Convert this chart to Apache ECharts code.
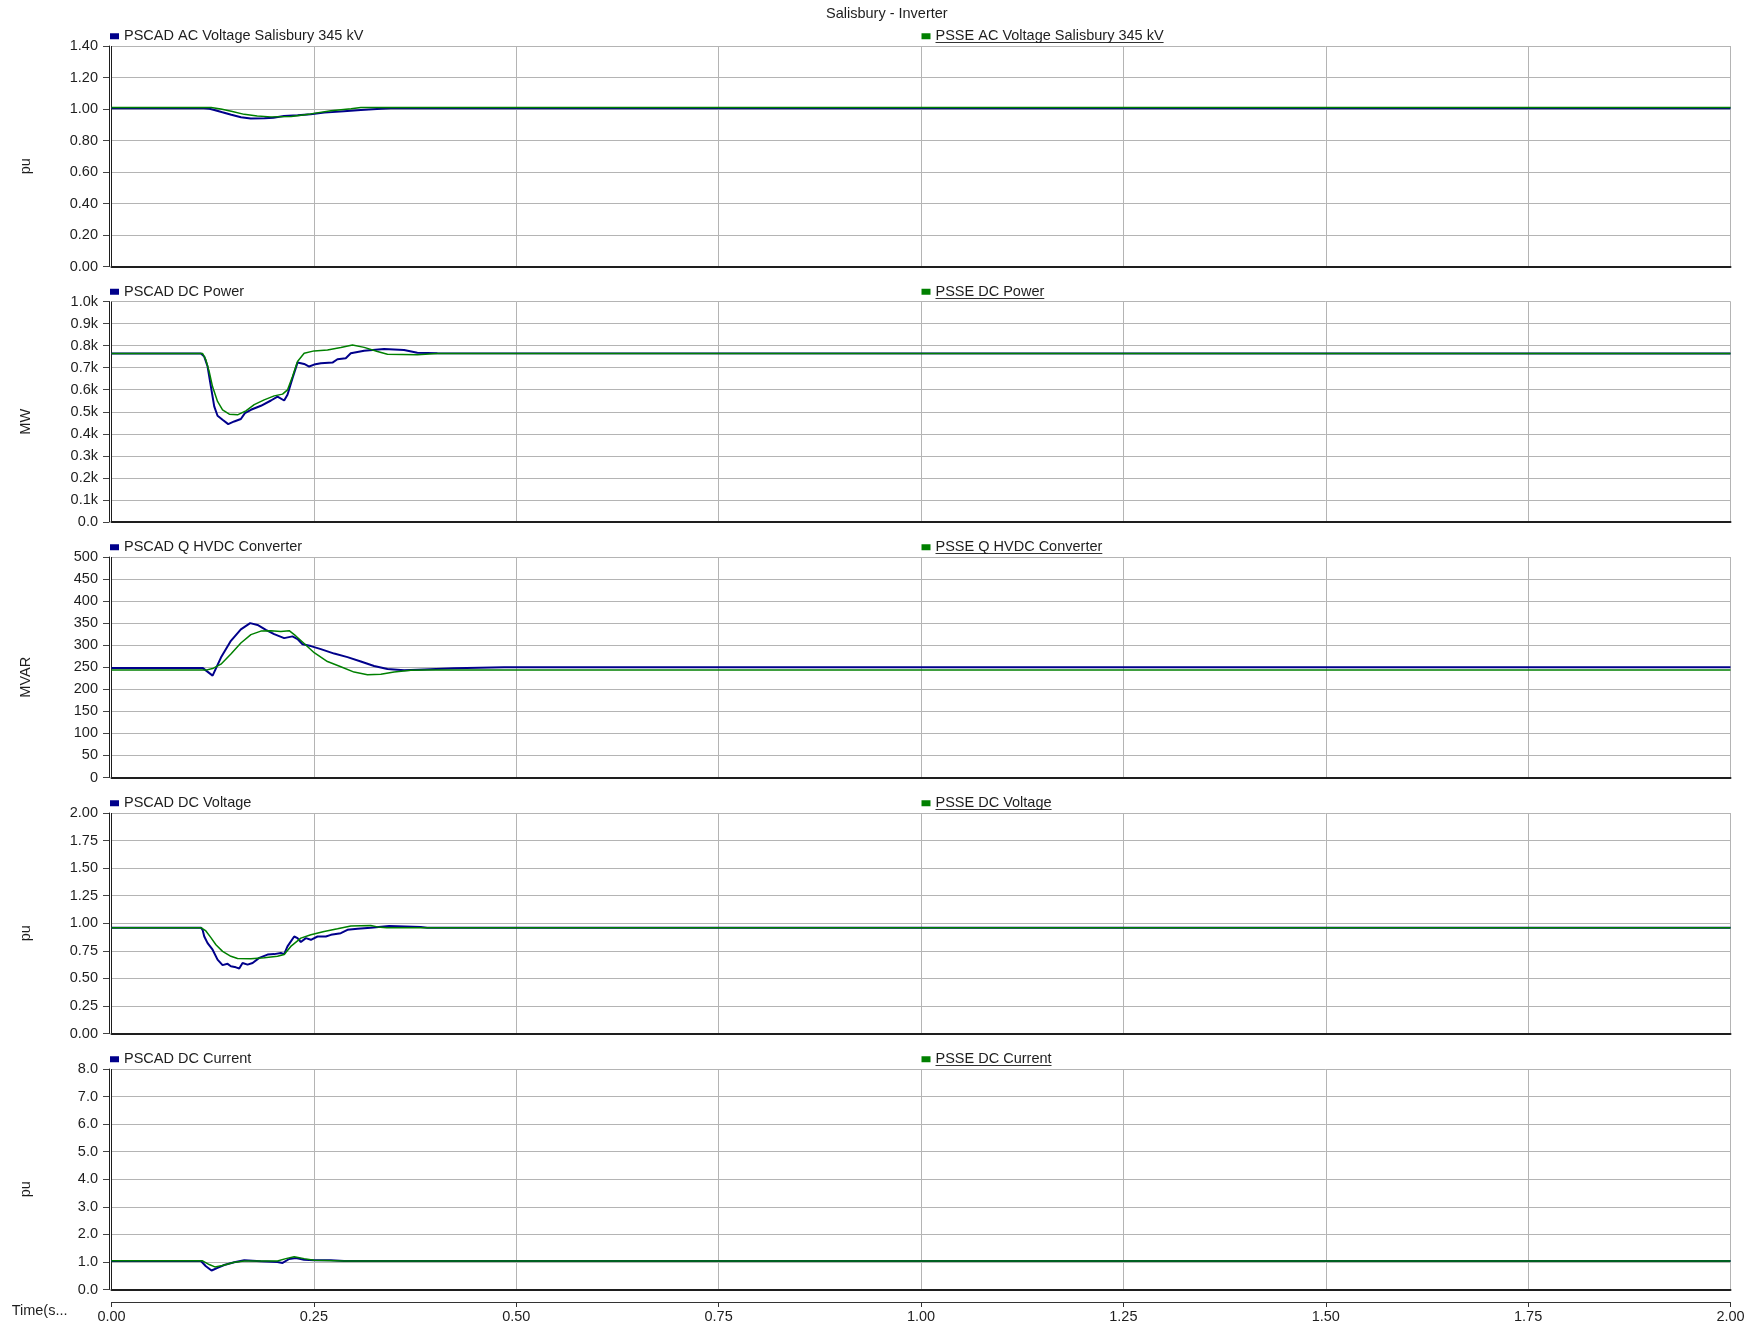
<!DOCTYPE html>
<html>
<head>
<meta charset="utf-8">
<title>Salisbury - Inverter</title>
<script src="https://cdn.jsdelivr.net/npm/echarts@6/dist/echarts.min.js"></script>
<style>
  html, body { margin: 0; padding: 0; background: #ffffff; }
  #chart { width: 1754px; height: 1331px; }
</style>
</head>
<body>
<div id="chart"></div>
<script>
// ---- tick labels ----
const timeTicks  = ['0.00', '0.25', '0.50', '0.75', '1.00', '1.25', '1.50', '1.75', '2.00'];
const acTicks    = ['0.00', '0.20', '0.40', '0.60', '0.80', '1.00', '1.20', '1.40'];
const powerTicks = ['0.0', '0.1k', '0.2k', '0.3k', '0.4k', '0.5k', '0.6k', '0.7k', '0.8k', '0.9k', '1.0k'];
const qTicks     = ['0', '50', '100', '150', '200', '250', '300', '350', '400', '450', '500'];
const vdcTicks   = ['0.00', '0.25', '0.50', '0.75', '1.00', '1.25', '1.50', '1.75', '2.00'];
const idcTicks   = ['0.0', '1.0', '2.0', '3.0', '4.0', '5.0', '6.0', '7.0', '8.0'];

// ---- series: [time (s), value] ----
// AC voltage at Salisbury 345 kV (pu)
const acPscad = [[0, 1.005], [0.114, 1.005], [0.121, 1.002], [0.127, 0.994], [0.137, 0.979], [0.148, 0.963],
  [0.160, 0.948], [0.172, 0.940], [0.189, 0.941], [0.200, 0.945], [0.213, 0.955], [0.230, 0.960],
  [0.246, 0.967], [0.263, 0.977], [0.287, 0.986], [0.308, 0.994], [0.333, 1.002], [0.345, 1.005], [2, 1.005]];
const acPsse = [[0, 1.01], [0.123, 1.01], [0.135, 1.0], [0.148, 0.986], [0.164, 0.966], [0.180, 0.955],
  [0.197, 0.950], [0.222, 0.953], [0.246, 0.969], [0.271, 0.989], [0.296, 1.002], [0.308, 1.01], [2, 1.01]];

// DC power (MW)
const powerPscad = [[0, 764], [0.1105, 764], [0.1146, 750], [0.1187, 705], [0.1228, 614], [0.1269, 524],
  [0.131, 482], [0.1372, 464], [0.1442, 444], [0.1516, 456], [0.1598, 467], [0.1648, 494], [0.1722, 509],
  [0.1846, 527], [0.197, 551], [0.2051, 569], [0.2133, 551], [0.2174, 577], [0.2236, 652], [0.2298, 723],
  [0.238, 717], [0.2442, 705], [0.2503, 714], [0.2586, 720], [0.273, 723], [0.2791, 738], [0.2894, 743],
  [0.2956, 765], [0.3121, 777], [0.3367, 785], [0.3614, 780], [0.3778, 768], [0.4026, 765], [2, 764]];
const powerPsse = [[0, 764], [0.1126, 764], [0.1166, 735], [0.1207, 682], [0.1248, 614], [0.131, 547],
  [0.1372, 509], [0.1455, 489], [0.1557, 486], [0.166, 504], [0.1763, 532], [0.1886, 554], [0.201, 572],
  [0.2113, 580], [0.2174, 599], [0.2236, 660], [0.2298, 728], [0.238, 765], [0.2503, 776], [0.2668, 780],
  [0.2833, 791], [0.2977, 803], [0.3121, 792], [0.3285, 773], [0.3409, 761], [0.3778, 759], [0.4026, 764], [2, 764]];

// Reactive power of the HVDC converter (MVAR)
const qPscad = [[0, 248.5], [0.1125, 248.5], [0.1249, 231], [0.1352, 272], [0.1475, 310], [0.1598, 336],
  [0.1713, 350], [0.1804, 346], [0.1907, 335], [0.2009, 325], [0.2133, 316], [0.2236, 320], [0.2298, 314],
  [0.236, 302], [0.2463, 298], [0.2586, 291], [0.2751, 281], [0.2915, 273], [0.308, 263], [0.3244, 253],
  [0.3409, 246], [0.3615, 243], [0.3861, 245], [0.4232, 248], [0.4849, 250], [2, 250]];
const qPsse = [[0, 243.5], [0.1166, 243.5], [0.1249, 247], [0.1352, 257], [0.1475, 280], [0.1598, 305],
  [0.1722, 324], [0.1845, 332], [0.1969, 333], [0.2092, 331], [0.2195, 333], [0.2277, 321], [0.238, 304],
  [0.2504, 283], [0.2668, 263], [0.2833, 251], [0.2997, 239], [0.3162, 233], [0.3327, 234], [0.3491, 239],
  [0.3697, 243], [0.39, 243.5], [2, 243.5]];

// DC voltage (pu)
const vdcPscad = [[0, 0.96], [0.1105, 0.96], [0.1125, 0.94], [0.1146, 0.88], [0.1187, 0.82], [0.1249, 0.76],
  [0.131, 0.67], [0.1372, 0.62], [0.1434, 0.632], [0.1475, 0.61], [0.1537, 0.60], [0.1578, 0.59],
  [0.1619, 0.64], [0.1681, 0.625], [0.1743, 0.64], [0.1825, 0.686], [0.1928, 0.716], [0.201, 0.72],
  [0.2092, 0.73], [0.2133, 0.72], [0.2174, 0.79], [0.2257, 0.88], [0.2298, 0.865], [0.2339, 0.83],
  [0.2401, 0.865], [0.2463, 0.85], [0.2545, 0.88], [0.2648, 0.88], [0.271, 0.895], [0.2833, 0.91],
  [0.2915, 0.94], [0.3039, 0.95], [0.3203, 0.96], [0.343, 0.975], [0.382, 0.967], [0.39, 0.96], [2, 0.96]];
const vdcPsse = [[0, 0.96], [0.1105, 0.96], [0.1166, 0.93], [0.1228, 0.87], [0.129, 0.805], [0.1372, 0.745],
  [0.1475, 0.70], [0.1557, 0.68], [0.1722, 0.677], [0.1887, 0.686], [0.2051, 0.70], [0.2133, 0.716],
  [0.2215, 0.79], [0.2339, 0.865], [0.2463, 0.895], [0.2627, 0.925], [0.2792, 0.95], [0.2957, 0.976],
  [0.3203, 0.979], [0.3285, 0.967], [0.34, 0.96], [2, 0.96]];

// DC current (pu)
const idcPscad = [[0, 1.035], [0.1105, 1.035], [0.1166, 0.845], [0.1236, 0.69], [0.131, 0.786], [0.1392, 0.89],
  [0.1516, 0.988], [0.164, 1.06], [0.1845, 1.024], [0.205, 1.0], [0.2113, 0.964], [0.2195, 1.107],
  [0.2277, 1.143], [0.238, 1.083], [0.2503, 1.06], [0.2709, 1.06], [0.2873, 1.036], [2, 1.035]];
const idcPsse = [[0, 1.04], [0.1125, 1.04], [0.1207, 0.905], [0.1277, 0.82], [0.1372, 0.87], [0.1516, 0.988],
  [0.164, 1.036], [0.205, 1.036], [0.2154, 1.12], [0.2257, 1.19], [0.238, 1.12], [0.2503, 1.06],
  [0.2873, 1.036], [2, 1.035]];

// ---- layout & style ----
const FONT = '"Liberation Sans", Arial, Helvetica, sans-serif';
const FS = 14.5;
const TEXT = '#1e1e1e';
const PSCAD_COLOR = '#00008b';
const PSSE_COLOR = '#008000';
const GRID_LEFT = 111.5;
const GRID_RIGHT = 23.5;
const GRID_H = 220.5;
const gridTops = [46, 301.5, 557, 813, 1069];
const PSSE_LEGEND_X = 921.5;

const panels = [
  { unit: 'pu',   max: 1.4,  step: 0.2,  ticks: acTicks,
    names: ['PSCAD AC Voltage Salisbury 345 kV', 'PSSE AC Voltage Salisbury 345 kV'], data: [acPscad, acPsse] },
  { unit: 'MW',   max: 1000, step: 100,  ticks: powerTicks,
    names: ['PSCAD DC Power', 'PSSE DC Power'], data: [powerPscad, powerPsse] },
  { unit: 'MVAR', max: 500,  step: 50,   ticks: qTicks,
    names: ['PSCAD Q HVDC Converter', 'PSSE Q HVDC Converter'], data: [qPscad, qPsse] },
  { unit: 'pu',   max: 2,    step: 0.25, ticks: vdcTicks,
    names: ['PSCAD DC Voltage', 'PSSE DC Voltage'], data: [vdcPscad, vdcPsse] },
  { unit: 'pu',   max: 8,    step: 1,    ticks: idcTicks,
    names: ['PSCAD DC Current', 'PSSE DC Current'], data: [idcPscad, idcPsse] }
];

const tickFormatter = (ticks, step) => (v) => ticks[Math.round(v / step)] ?? '';

// first vertical line (t = 0) is dark, the rest are light grid lines
const vLineColors = timeTicks.map((_, i) => (i === 0 ? '#1e1e1e' : '#b4b4b4'));

const measure = document.createElement('canvas').getContext('2d');
measure.font = FS + 'px ' + FONT;

const grid = [], xAxis = [], yAxis = [], series = [], legend = [], graphic = [];

panels.forEach((p, i) => {
  const top = gridTops[i];
  grid.push({ left: GRID_LEFT, right: GRID_RIGHT, top: top, height: GRID_H, containLabel: false });

  xAxis.push({
    gridIndex: i, type: 'value', min: 0, max: 2, interval: 0.25,
    axisLine: { show: true, onZero: false, lineStyle: { color: '#1e1e1e', width: 2 } },
    axisTick: { show: false }, axisLabel: { show: false },
    splitLine: { show: true, showMinLine: true, showMaxLine: true, lineStyle: { color: vLineColors, width: 1 } }
  });

  yAxis.push({
    gridIndex: i, type: 'value', min: 0, max: p.max, interval: p.step, offset: 2.5,
    axisLine: { show: true, onZero: false, lineStyle: { color: '#1e1e1e', width: 1 } },
    axisTick: { show: true, length: 6, lineStyle: { color: '#444' } },
    axisLabel: { margin: 11, formatter: tickFormatter(p.ticks, p.step), color: TEXT, fontSize: FS, fontFamily: FONT },
    splitLine: { show: true, lineStyle: { color: '#b4b4b4', width: 1 } },
    name: p.unit, nameLocation: 'middle', nameRotate: 90, nameGap: 76,
    nameTextStyle: { color: TEXT, fontSize: FS, fontFamily: FONT, padding: [0, 20, 0, 0] }
  });

  series.push({
    type: 'line', name: p.names[0], xAxisIndex: i, yAxisIndex: i, data: p.data[0],
    showSymbol: false, symbol: 'none', z: 2,
    lineStyle: { color: PSCAD_COLOR, width: 2 }, itemStyle: { color: PSCAD_COLOR }
  });
  series.push({
    type: 'line', name: p.names[1], xAxisIndex: i, yAxisIndex: i, data: p.data[1],
    showSymbol: false, symbol: 'none', z: 3,
    lineStyle: { color: PSSE_COLOR, width: 1.5 }, itemStyle: { color: PSSE_COLOR }
  });

  const legendCenter = top - 10;
  const legendBase = {
    orient: 'horizontal', top: legendCenter - FS / 2, padding: 0, itemGap: 0,
    itemWidth: 9, itemHeight: 6, icon: 'rect', selectedMode: false,
    textStyle: { color: TEXT, fontSize: FS, fontFamily: FONT }
  };
  legend.push(Object.assign({}, legendBase, { left: 110, data: [p.names[0]] }));
  legend.push(Object.assign({}, legendBase, { left: PSSE_LEGEND_X, data: [p.names[1]] }));

  // underline under the PSSE legend entry
  const textX = PSSE_LEGEND_X + 9 + 5;
  const w = measure.measureText(p.names[1]).width;
  const uy = Math.round(legendCenter + 6) + 0.5;
  graphic.push({
    type: 'line', silent: true,
    shape: { x1: textX, y1: uy, x2: textX + w, y2: uy },
    style: { stroke: '#333', lineWidth: 1 }
  });
});

// shared time axis below the last panel
xAxis.push({
  gridIndex: 4, type: 'value', min: 0, max: 2, interval: 0.25, position: 'bottom', offset: 12.5,
  axisLine: { show: true, onZero: false, lineStyle: { color: '#333', width: 1 } },
  axisTick: { show: true, length: 5, lineStyle: { color: '#333' } },
  axisLabel: { show: true, margin: 7, formatter: tickFormatter(timeTicks, 0.25), color: TEXT, fontSize: FS, fontFamily: FONT },
  splitLine: { show: false },
  name: 'Time(s...', nameLocation: 'start', nameGap: 44,
  nameTextStyle: { color: TEXT, fontSize: FS, fontFamily: FONT, verticalAlign: 'top', padding: [1, 0, 0, 0] }
});

const chart = echarts.init(document.getElementById('chart'), null, { renderer: 'canvas' });
chart.setOption({
  backgroundColor: '#ffffff',
  animation: false,
  title: {
    text: 'Salisbury - Inverter', left: 826, top: 6, padding: 0,
    textStyle: { color: TEXT, fontSize: FS, fontWeight: 'normal', fontFamily: FONT }
  },
  legend: legend,
  grid: grid,
  xAxis: xAxis,
  yAxis: yAxis,
  series: series,
  graphic: graphic
});
</script>
</body>
</html>
